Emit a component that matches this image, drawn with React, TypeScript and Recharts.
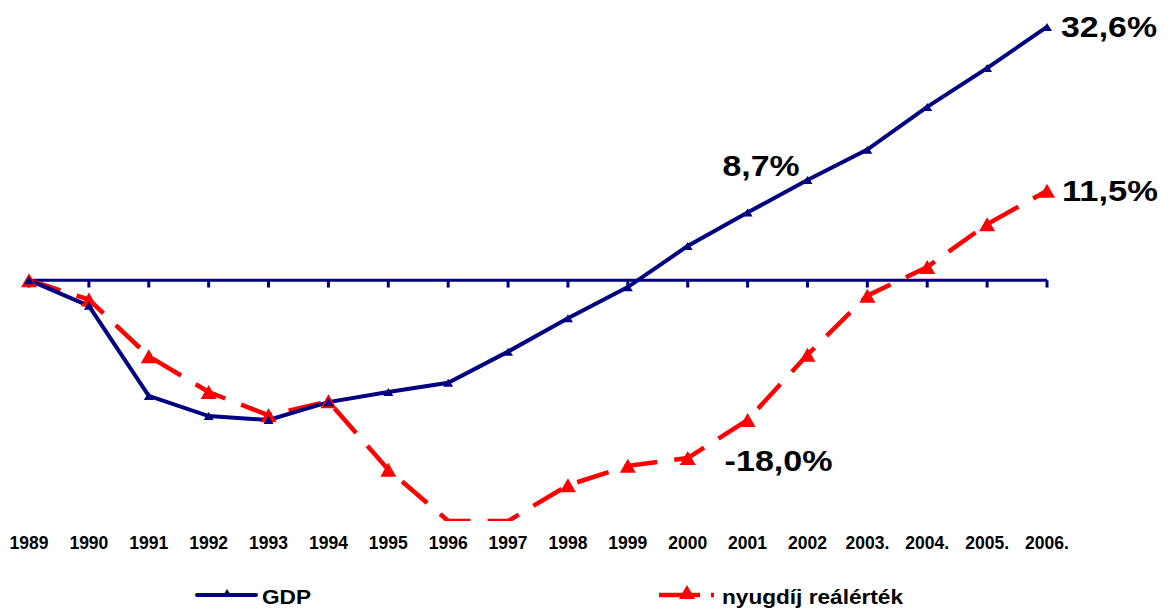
import { LabelList, Legend, Line, LineChart, ReferenceLine, XAxis, YAxis } from 'recharts'

const years = ['1989', '1990', '1991', '1992', '1993', '1994', '1995', '1996', '1997', '1998', '1999', '2000', '2001', '2002', '2003.', '2004.', '2005.', '2006.']
const gdp = [0, -3.3, -14.9, -17.5, -18.0, -15.7, -14.4, -13.2, -9.2, -4.9, -0.9, 4.4, 8.7, 12.9, 16.8, 22.3, 27.3, 32.6]
// 1996–1997 run off the bottom of the original axis; kept at the axis minimum
const pension = [0, -2.5, -9.8, -14.4, -17.4, -15.6, -24.4, -31, -31, -26.4, -23.9, -22.9, -18.0, -9.6, -2.0, 1.7, 7.2, 11.5]

const Y_MIN = -31
const Y_MAX = 34

const NAVY = '#000080'
const RED = '#ff0000'
const FONT = '"Liberation Sans", Arial, sans-serif'

const data = years.map((year, i) => ({ year, gdp: gdp[i], pension: pension[i] }))

const fmt = (v: number) => v.toFixed(1).replace('.', ',') + '%'

const tri = (cx: number, cy: number, w: number, h: number) =>
  `M${cx - w / 2},${cy + h / 2} L${cx},${cy - h / 2} L${cx + w / 2},${cy + h / 2} Z`

function makeDot(color: string, w: number, h: number) {
  return (props: any) => {
    const { cx, cy, value, index } = props
    if (cx == null || cy == null || value <= Y_MIN) return <g key={`d${index}`} />
    return <path key={`d${index}`} d={tri(cx, cy, w, h)} fill={color} />
  }
}

// label offsets per series: index -> [dx, dy, textLength]
const gdpLabels: Record<number, [number, number, number]> = { 12: [-25, -37, 77], 17: [14, 10, 96] }
const pensionLabels: Record<number, [number, number, number]> = { 12: [-23, 51, 108], 17: [15, 10, 96] }

function makeLabel(cfg: Record<number, [number, number, number]>) {
  return (props: any) => {
    const { x, y, value, index } = props
    const c = cfg[index]
    if (!c) return null
    return (
      <text
        x={x + c[0]}
        y={y + c[1]}
        fontFamily={FONT}
        fontWeight="bold"
        fontSize={30}
        fill="#000"
        textLength={c[2]}
        lengthAdjust="spacingAndGlyphs"
      >
        {fmt(value)}
      </text>
    )
  }
}

function LegendContent() {
  return (
    <svg width={1169} height={40} style={{ display: 'block' }}>
      <line x1={197} y1={25} x2={256} y2={25} stroke={NAVY} strokeWidth={4} strokeLinecap="round" />
      <path d={tri(227, 23, 10, 8)} fill={NAVY} />
      <text x={262} y={34} fontFamily={FONT} fontWeight="bold" fontSize={19.5} textLength={49} lengthAdjust="spacingAndGlyphs">
        GDP
      </text>
      <line x1={659} y1={25} x2={700} y2={25} stroke={RED} strokeWidth={4.5} />
      <path d={tri(687, 22, 16, 14)} fill={RED} />
      <line x1={711} y1={25} x2={714} y2={25} stroke={RED} strokeWidth={4.5} />
      <text x={722} y={34} fontFamily={FONT} fontWeight="bold" fontSize={19.5} textLength={181} lengthAdjust="spacingAndGlyphs">
        nyugdíj reálérték
      </text>
    </svg>
  )
}

export default function App() {
  return (
    <div style={{ position: 'absolute', left: 0, top: 0, width: 1169, height: 610, background: '#fff' }}>
      <LineChart width={1169} height={610} data={data} margin={{ top: 16, right: 122, bottom: 0, left: 29 }}>
        <XAxis
          dataKey="year"
          axisLine={false}
          tickLine={false}
          tickMargin={10}
          height={49}
          interval={0}
          tick={{ fontFamily: FONT, fontWeight: 'bold', fontSize: 17.5, fill: '#000' }}
        />
        <YAxis hide domain={[Y_MIN, Y_MAX]} allowDataOverflow />
        <ReferenceLine y={0} stroke={NAVY} strokeWidth={3} />
        {years.map(yr => (
          <ReferenceLine
            key={yr}
            segment={[{ x: yr, y: 0 }, { x: yr, y: -0.95 }]}
            stroke={NAVY}
            strokeWidth={3}
          />
        ))}
        <Legend
          verticalAlign="bottom"
          height={40}
          content={() => <LegendContent />}
          wrapperStyle={{ left: 0, bottom: 0, width: 1169, height: 40 }}
        />
        <Line
          type="linear"
          dataKey="pension"
          name="nyugdíj reálérték"
          stroke={RED}
          strokeWidth={4.5}
          strokeDasharray="33 17"
          dot={makeDot(RED, 16, 14)}
          activeDot={false}
          isAnimationActive={false}
        >
          <LabelList dataKey="pension" content={makeLabel(pensionLabels)} />
        </Line>
        <Line
          type="linear"
          dataKey="gdp"
          name="GDP"
          stroke={NAVY}
          strokeWidth={4}
          dot={makeDot(NAVY, 10, 8)}
          activeDot={false}
          isAnimationActive={false}
        >
          <LabelList dataKey="gdp" content={makeLabel(gdpLabels)} />
        </Line>
      </LineChart>
    </div>
  )
}
